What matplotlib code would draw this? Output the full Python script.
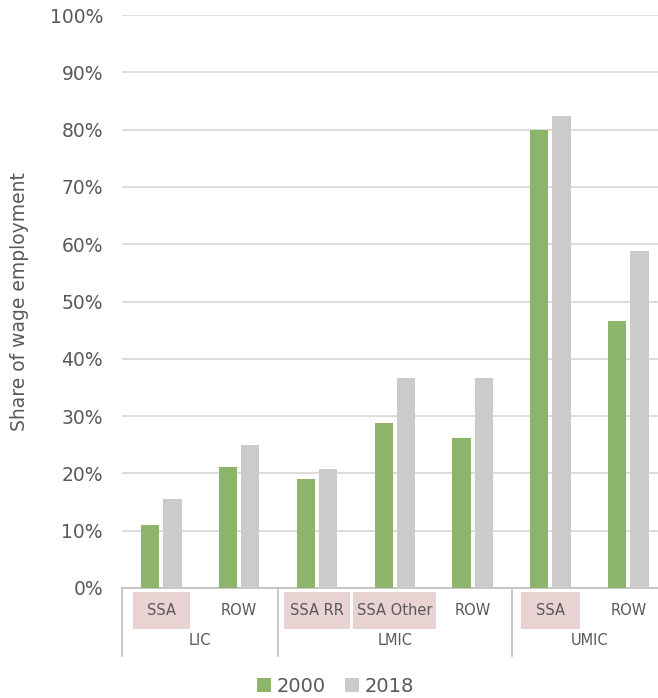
"""
Share of wage employment by income group and region, 2000 vs 2018
"""
import matplotlib.pyplot as plt
from matplotlib.patches import Rectangle
import matplotlib.transforms as mtransforms

# dados
subgrupos = ["SSA", "ROW", "SSA RR", "SSA Other", "ROW", "SSA", "ROW"]
grupos = ["LIC", "LMIC", "UMIC"]
n_por_grupo = [2, 3, 2]
destaque = [True, False, True, True, False, True, False]   # fundo rosa (SSA)
v2000 = [11.0, 21.1, 19.0, 28.8, 26.2, 79.9, 46.6]
v2018 = [15.5, 25.0, 20.8, 36.6, 36.6, 82.4, 58.8]

VERDE = "#8db46b"
CINZA = "#cbcbcb"
TEXTO = "#595959"
ROSA = "#e9d2d2"
LINHA = "#d9d9d9"

plt.rcParams["font.family"] = ["DejaVu Sans"]

fig = plt.figure(figsize=(6.58, 6.98), dpi=100)
ax = fig.add_axes([0.186, 0.1576, 0.828, 0.8209])

x = list(range(len(subgrupos)))
larg = 0.235
ax.bar([i - 0.143 for i in x], v2000, width=larg, color=VERDE, label="2000", zorder=3)
ax.bar([i + 0.143 for i in x], v2018, width=larg, color=CINZA, label="2018", zorder=3)

ax.set_xlim(-0.5, len(subgrupos) - 0.5)
ax.set_ylim(0, 100)
ax.set_yticks(range(0, 101, 10))
ax.set_yticklabels([f"{v}%" for v in range(0, 101, 10)])
ax.tick_params(axis="y", length=0, pad=14, labelsize=13.5, labelcolor=TEXTO)
ax.set_xticks([])
ax.grid(axis="y", color=LINHA, linewidth=1.3, zorder=0)
for s in ["top", "right", "left"]:
    ax.spines[s].set_visible(False)
ax.spines["bottom"].set_color("#bfbfbf")
ax.spines["bottom"].set_linewidth(1.2)

ax.set_ylabel("Share of wage employment", fontsize=13.5, color=TEXTO)
ax.yaxis.set_label_coords(-0.172, 0.5)

# eixo de categorias em dois níveis
trans = mtransforms.blended_transform_factory(ax.transData, ax.transAxes)
larg_caixa = [0.73, None, 0.84, 1.07, None, 0.75, None]
for i, (nome, rosa) in enumerate(zip(subgrupos, destaque)):
    if rosa:
        w = larg_caixa[i]
        ax.add_patch(Rectangle((i - w / 2, -0.072), w, 0.065, transform=trans,
                               facecolor=ROSA, edgecolor="none", clip_on=False))
    ax.text(i, -0.039, nome, transform=trans, ha="center", va="center",
            fontsize=10.5, color=TEXTO)

inicio = 0
fronteiras = [-0.5]
for g, n in zip(grupos, n_por_grupo):
    centro = inicio + (n - 1) / 2
    ax.text(centro, -0.092, g, transform=trans, ha="center", va="center",
            fontsize=10.5, color=TEXTO)
    inicio += n
    fronteiras.append(inicio - 0.5)
for f in fronteiras:
    ax.plot([f, f], [0, -0.118], transform=trans, color="#bfbfbf",
            linewidth=1.2, clip_on=False)

fig.legend(loc="center", bbox_to_anchor=(0.51, 0.017), ncol=2, frameon=False,
           fontsize=14, handlelength=0.7, handleheight=0.7, handletextpad=0.3,
           columnspacing=1.0, labelcolor=TEXTO)

plt.savefig("out.png", dpi=100)
